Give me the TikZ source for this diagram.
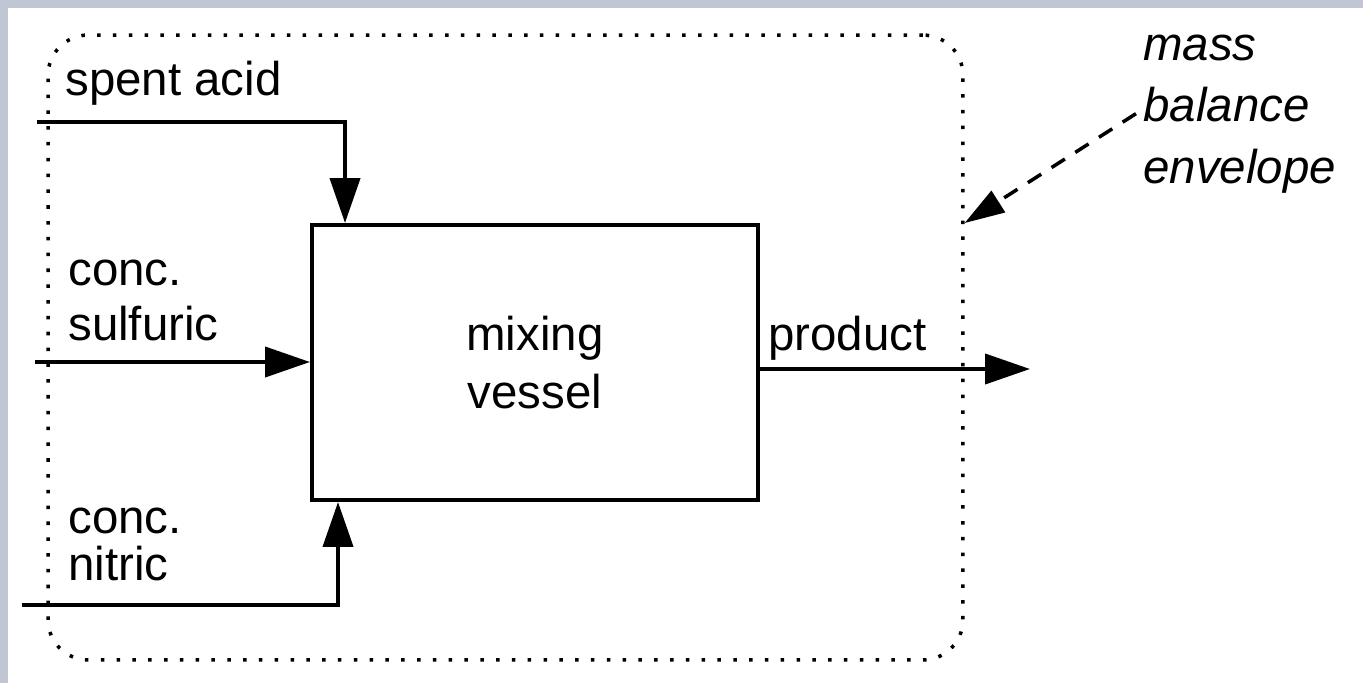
\documentclass[tikz,border=0pt]{standalone}
\usepackage{fontspec}
\setmainfont{Liberation Sans}
\usetikzlibrary{arrows.meta, positioning}
\definecolor{edgegray}{RGB}{192,198,212}

\begin{document}
\begin{tikzpicture}[
    x=0.02cm, y=-0.02cm,
    every node/.style={font=\fontsize{27}{31}\selectfont},
    vessel/.style={rectangle, draw, line width=2.3pt, minimum width=8.92cm, minimum height=5.5cm, align=center, font=\fontsize{27}{33}\selectfont},
    envelope/.style={rectangle, draw, rounded corners=0.8cm, line width=2pt, dash pattern=on 2pt off 7pt, minimum width=18.3cm, minimum height=12.5cm},
    stream/.style={anchor=base west, align=left, inner sep=0pt},
    flow/.style={line width=2.3pt, -{Triangle[length=0.9cm, width=0.6cm]}},
    pointer/.style={line width=2pt, dash pattern=on 9pt off 7pt, -{Triangle[length=0.8cm, width=0.5cm]}}
]

\fill[edgegray] (0,0) rectangle (1363,683);
\fill[white] (8,8) rectangle (1363,683);
\useasboundingbox (0,0) rectangle (1363,683);

\node[envelope] (env) at (505.5,347.5) {};
\node[vessel] (vessel) at (535,362.5) {mixing\\vessel};

\node[stream] (sa-text) at (65,95) {spent acid};
\node[stream] (su-text) at (68,340) {conc.\\sulfuric};
\node[stream, font=\fontsize{27}{26.6}\selectfont] (ni-text) at (68,580) {conc.\\nitric};
\node[stream] (pr-text) at (768,350) {product};
\node[stream, font=\fontsize{27}{35}\itshape] (note) at (1143,183) {mass\\balance\\envelope};

\coordinate (sa-in) at (37,122);
\coordinate (su-in) at (35,362);
\coordinate (ni-in) at (22,605);
\coordinate (pr-out) at (1030,369);

\draw[flow] (sa-in) -| ([xshift=0.7cm]vessel.north west);
\draw[flow] (su-in) -- (su-in -| vessel.west);
\draw[flow] (ni-in) -| ([xshift=0.56cm]vessel.south west);
\draw[flow] (vessel.east |- pr-out) -- (pr-out);
\draw[pointer] ([xshift=-4pt]note.west) -- (vessel.north -| env.east);

\end{tikzpicture}
\end{document}
